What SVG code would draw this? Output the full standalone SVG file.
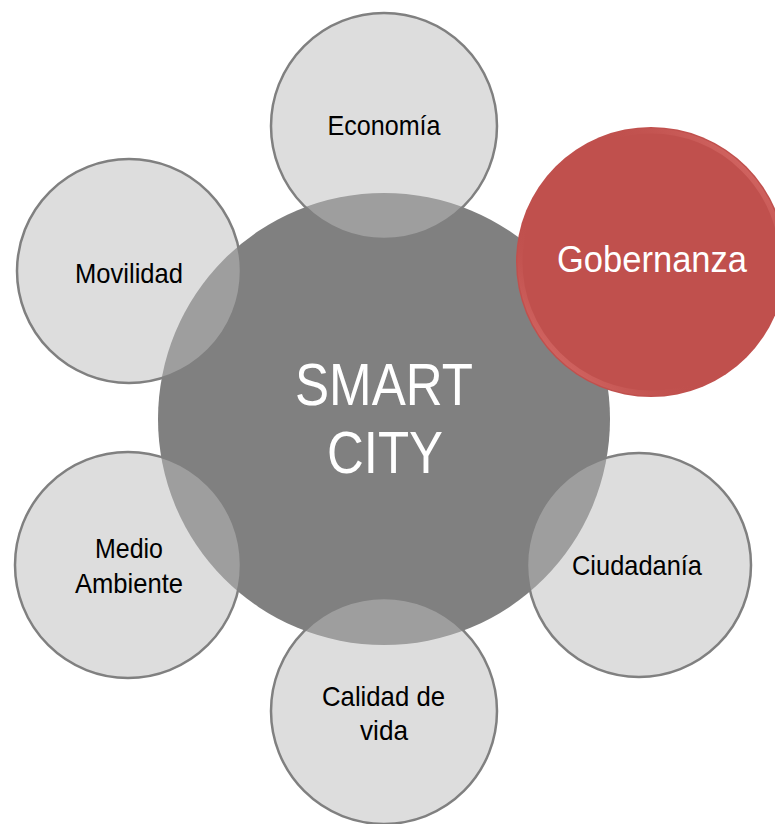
<svg xmlns="http://www.w3.org/2000/svg" width="775" height="824" viewBox="0 0 775 824">
<style>
.sat{fill:#bbbbbb;fill-opacity:0.5;stroke:#808080;stroke-width:2.5}
.lbl{font-family:"Liberation Sans",Arial,sans-serif;font-size:28px;fill:#000;text-anchor:middle}
.big{font-family:"Liberation Sans",Arial,sans-serif;font-size:60px;fill:#fff;text-anchor:middle}
.gob{font-family:"Liberation Sans",Arial,sans-serif;font-size:37px;fill:#fff;text-anchor:middle}
</style>
<defs>
<linearGradient id="bevel" x1="1" y1="0" x2="0" y2="1">
<stop offset="0" stop-color="#f08a86" stop-opacity="0.9"/>
<stop offset="0.35" stop-color="#c0504d" stop-opacity="0"/>
<stop offset="0.65" stop-color="#c0504d" stop-opacity="0"/>
<stop offset="1" stop-color="#f08a86" stop-opacity="0.9"/>
</linearGradient>
</defs>
<rect width="775" height="824" fill="#ffffff"/>
<g id="smart-city">
<circle cx="384" cy="419" r="226" fill="#808080"/>
</g>
<g id="economia">
<circle class="sat" cx="384" cy="126" r="113"/>
<text class="lbl" x="384" y="135" textLength="113" lengthAdjust="spacingAndGlyphs">Economía</text>
</g>
<g id="movilidad">
<circle class="sat" cx="129" cy="271" r="112"/>
<text class="lbl" x="129" y="283" textLength="108" lengthAdjust="spacingAndGlyphs">Movilidad</text>
</g>
<g id="medio-ambiente">
<circle class="sat" cx="128" cy="565" r="113"/>
<text class="lbl" x="129" y="558" textLength="68" lengthAdjust="spacingAndGlyphs">Medio</text>
<text class="lbl" x="129" y="593" textLength="108" lengthAdjust="spacingAndGlyphs">Ambiente</text>
</g>
<g id="ciudadania">
<circle class="sat" cx="639" cy="565" r="112"/>
<text class="lbl" x="637" y="575" textLength="130" lengthAdjust="spacingAndGlyphs">Ciudadanía</text>
</g>
<g id="calidad-de-vida">
<circle class="sat" cx="384" cy="711" r="113"/>
<text class="lbl" x="383.5" y="706" textLength="123" lengthAdjust="spacingAndGlyphs">Calidad de</text>
<text class="lbl" x="384" y="740" textLength="48" lengthAdjust="spacingAndGlyphs">vida</text>
</g>
<g id="smart-city-label">
<text class="big" x="384" y="405" textLength="178" lengthAdjust="spacingAndGlyphs">SMART</text>
<text class="big" x="385" y="473" textLength="116" lengthAdjust="spacingAndGlyphs">CITY</text>
</g>
<g id="gobernanza">
<circle cx="651" cy="262" r="135" fill="#c0504d"/>
<circle cx="651" cy="262" r="131" fill="none" stroke="url(#bevel)" stroke-width="5"/>
<text class="gob" x="652" y="272" textLength="190" lengthAdjust="spacingAndGlyphs">Gobernanza</text>
</g>
<g id="connectors"></g>
</svg>
